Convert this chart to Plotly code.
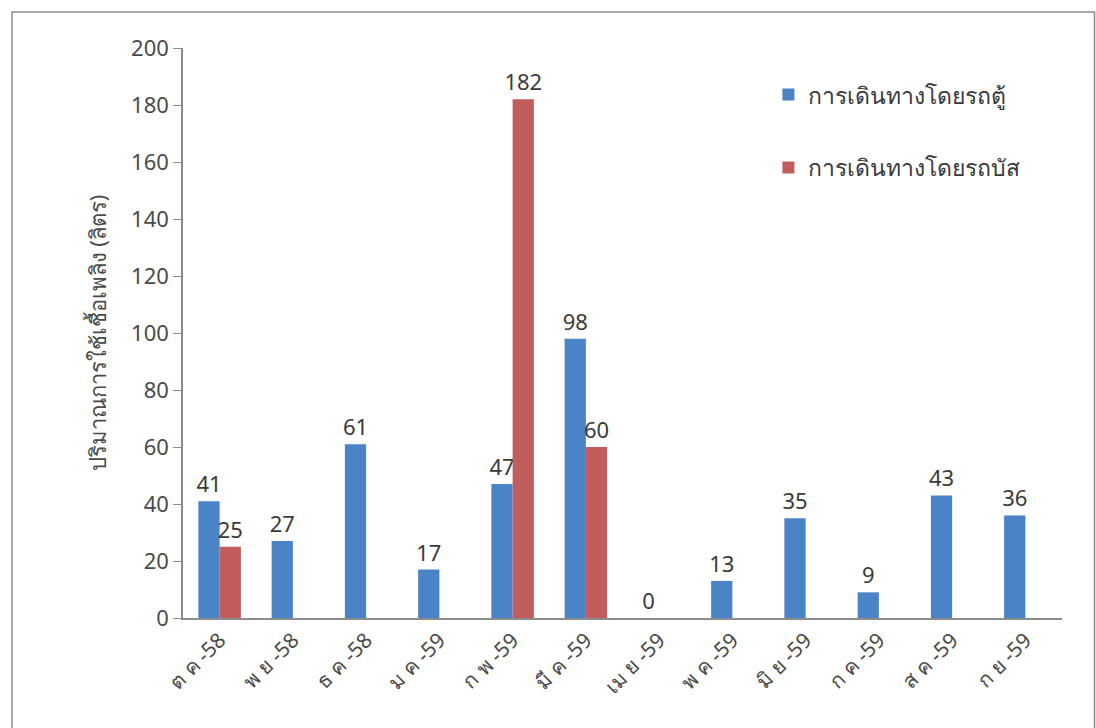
import plotly.graph_objects as go

months = ["ต ค -58", "พ ย -58", "ธ ค -58", "ม ค -59", "ก พ -59", "มี ค -59",
          "เม ย -59", "พ ค -59", "มิ ย -59", "ก ค -59", "ส ค -59", "ก ย -59"]
van_litres = [41, 27, 61, 17, 47, 98, 0, 13, 35, 9, 43, 36]
bus_litres = [25, None, None, None, 182, 60, None, None, None, None, None, None]

van_name = "การเดินทางโดยรถตู้"
bus_name = "การเดินทางโดยรถบัส"
y_title = "ปริมาณการใช้เชื้อเพลิง (ลิตร)"

FONT = "Noto Sans, DejaVu Sans, sans-serif"
TXT = "#3a3a3a"
LABEL_FONT = dict(size=22, color=TXT, family=FONT)

fig = go.Figure()
fig.add_trace(go.Bar(
    x=months, y=van_litres, name=van_name, legendgroup="van",
    marker=dict(color="#4a83c6", line=dict(width=0)),
    text=[str(v) for v in van_litres], textposition="outside", textangle=0,
    constraintext="none", textfont=LABEL_FONT, cliponaxis=False,
))
fig.add_trace(go.Bar(
    x=months, y=bus_litres, name=bus_name, legendgroup="bus",
    marker=dict(color="#c25d5d", line=dict(width=0)),
    text=[("" if v is None else str(v)) for v in bus_litres], textposition="outside",
    textangle=0, constraintext="none", textfont=LABEL_FONT, cliponaxis=False,
))

fig.update_layout(
    width=1096, height=728,
    margin=dict(l=183, r=34, t=48, b=110),
    paper_bgcolor="white", plot_bgcolor="white",
    barmode="group", bargap=0.42, bargroupgap=0,
    font=dict(family=FONT, color=TXT),
    showlegend=True,
    legend=dict(
        x=0.666, y=0.956, xanchor="left", yanchor="top",
        font=dict(size=23, color=TXT, family=FONT),
        tracegroupgap=40, bgcolor="rgba(0,0,0,0)", itemwidth=30,
    ),
    xaxis=dict(
        showline=True, linecolor="#8c8c8c", linewidth=1.5,
        ticks="", tickangle=-45, showgrid=False,
        tickfont=dict(size=21, color="#4a4a4a", family=FONT),
    ),
    yaxis=dict(
        range=[0, 200], dtick=20, showline=True, linecolor="#8c8c8c", linewidth=1.5,
        ticks="outside", ticklen=8, tickcolor="#8c8c8c", showgrid=False, zeroline=False,
        tickfont=dict(size=22, color="#4a4a4a", family=FONT),
        title=dict(text=y_title, font=dict(size=22, color="#4a4a4a", family=FONT), standoff=18),
    ),
    shapes=[dict(
        type="rect", xref="paper", yref="paper",
        x0=-171 / 879, x1=1.037, y0=-0.3, y1=1.063,
        line=dict(color="#8c8c8c", width=1.5), fillcolor="rgba(0,0,0,0)", layer="below",
    )],
)

fig.write_html("out.html")
